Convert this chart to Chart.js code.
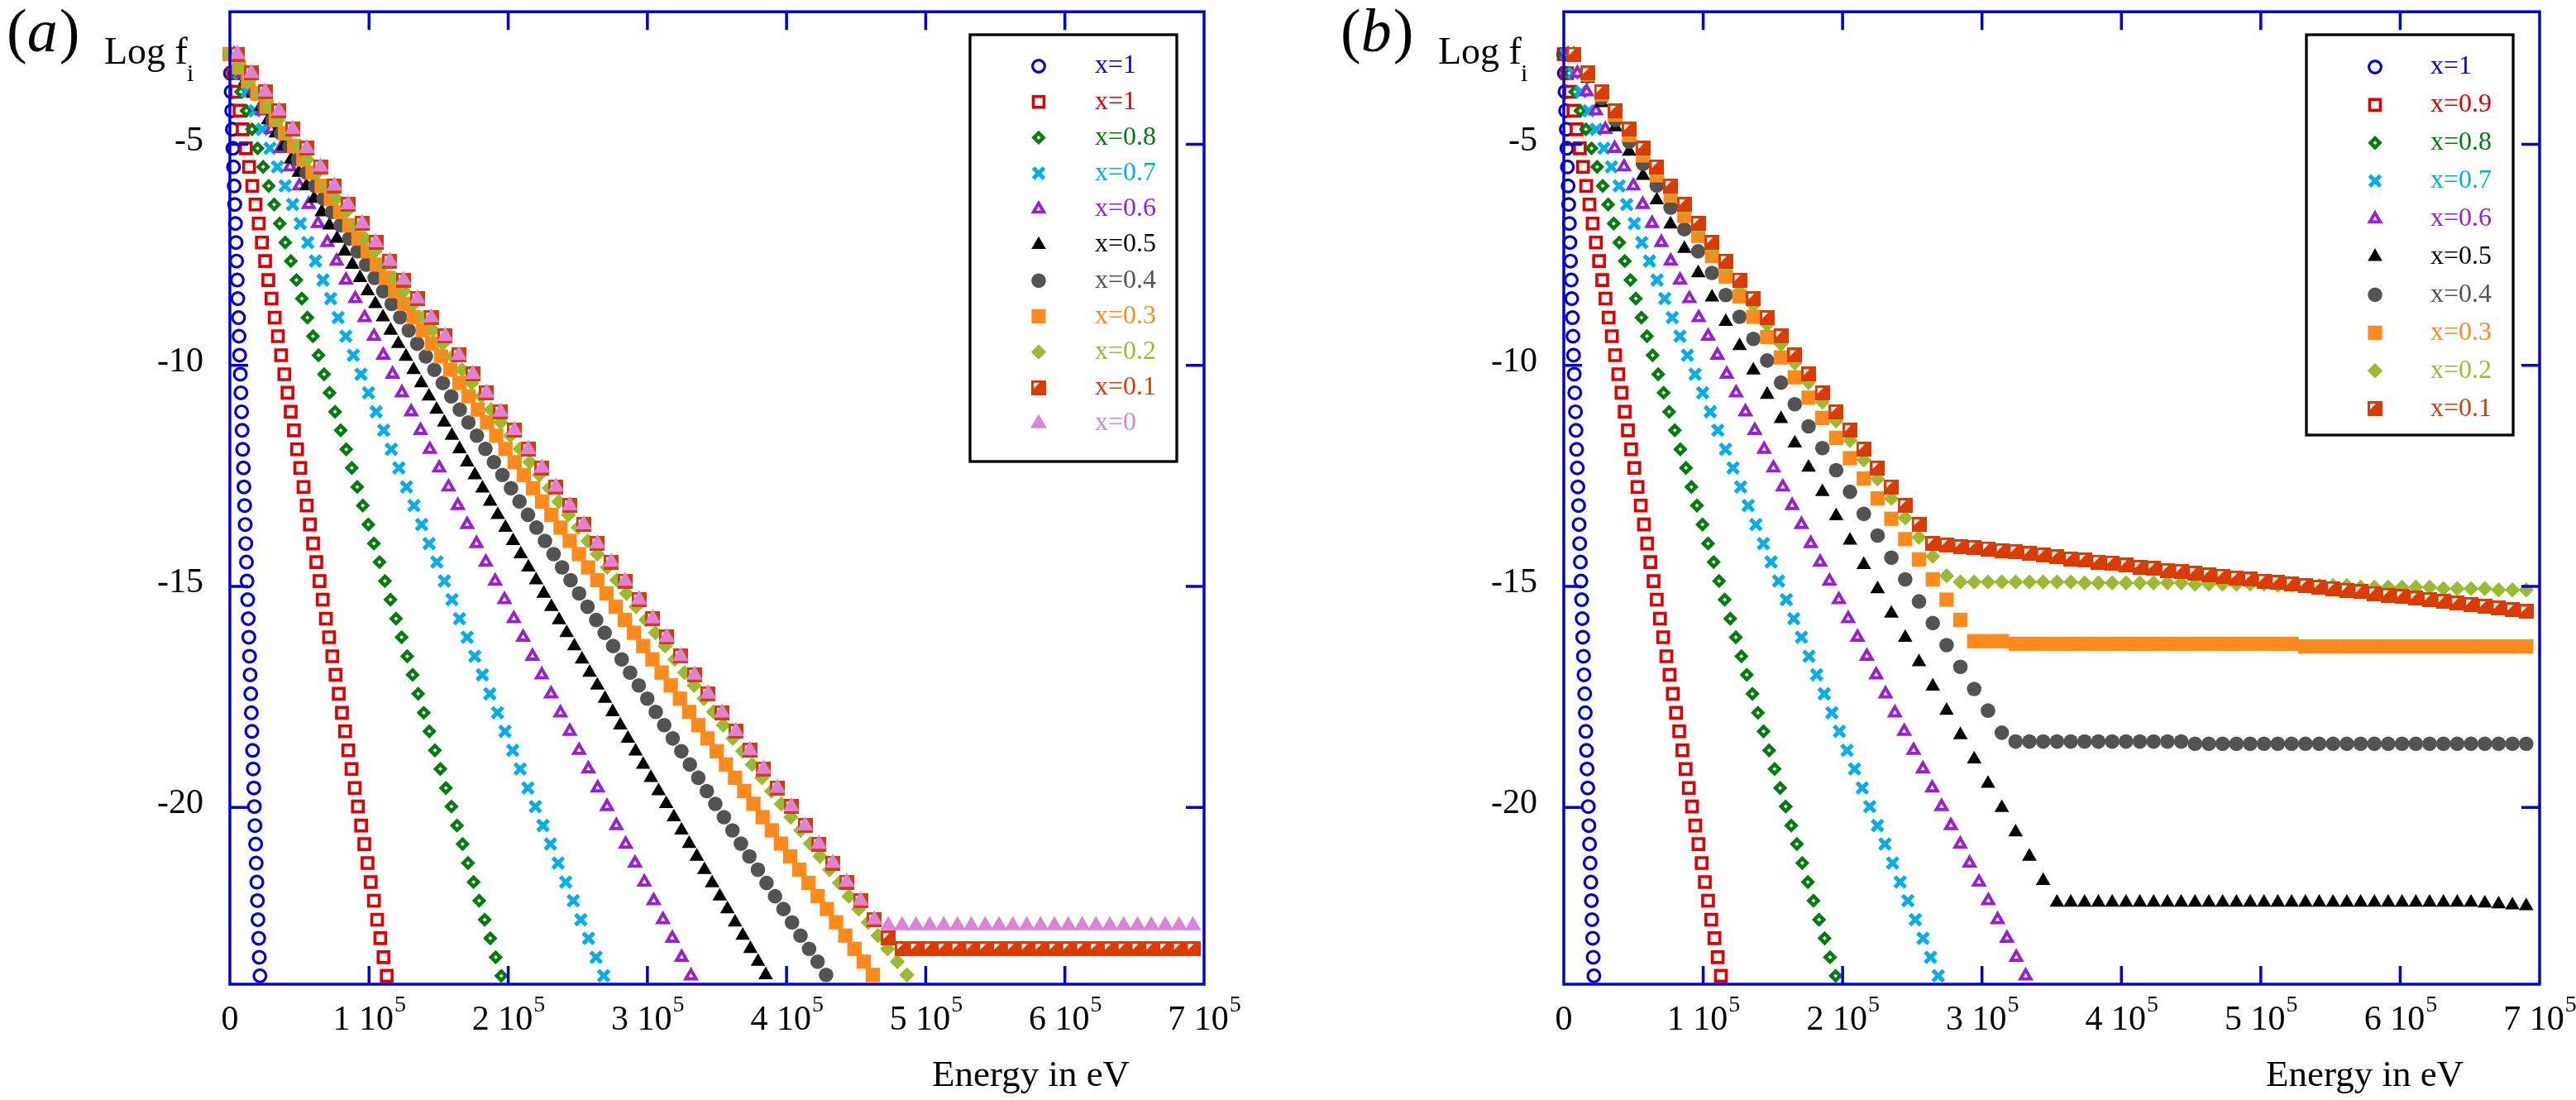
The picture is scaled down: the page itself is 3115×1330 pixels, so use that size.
<!DOCTYPE html>
<html>
<head>
<meta charset="utf-8">
<title>Log f_i versus energy</title>
<script src="https://cdn.jsdelivr.net/npm/chart.js@4.4.1/dist/chart.umd.min.js"></script>
<style>
  html, body { margin: 0; padding: 0; background: #fff; }
  body { width: 3115px; height: 1330px; position: relative; overflow: hidden; }
  .panel { position: absolute; top: 0; height: 1330px; }
  #panelA { left: 0; width: 1557px; }
  #panelB { left: 1557px; width: 1558px; }
</style>
</head>
<body>
<div class="panel" id="panelA"><canvas id="chartA" width="1557" height="1330"></canvas></div>
<div class="panel" id="panelB"><canvas id="chartB" width="1558" height="1330"></canvas></div>
<script>
// ---- Data (energies in keV, values are log10 f_i) ----
const energyTicks = [0, 100, 200, 300, 400, 500, 600, 700];
const levelTicks = [-5, -10, -15, -20];

const labelsA = ['x=1', 'x=1', 'x=0.8', 'x=0.7', 'x=0.6', 'x=0.5', 'x=0.4', 'x=0.3', 'x=0.2', 'x=0.1', 'x=0'];
const labelsB = ['x=1', 'x=0.9', 'x=0.8', 'x=0.7', 'x=0.6', 'x=0.5', 'x=0.4', 'x=0.3', 'x=0.2', 'x=0.1'];

// levels shared by the x=1 ... x=0.6 curves (and the x=0.1 / x=0 start)
const logLevels = [
  -2.96, -3.39, -3.81, -4.24, -4.66, -5.09, -5.51, -5.94, -6.36, -6.79,
  -7.22, -7.64, -8.07, -8.49, -8.92, -9.34, -9.77, -10.20, -10.62, -11.05,
  -11.47, -11.90, -12.32, -12.75, -13.17, -13.60, -14.03, -14.45, -14.88, -15.30,
  -15.73, -16.15, -16.58, -17.00, -17.43, -17.86, -18.28, -18.71, -19.13, -19.56,
  -19.98, -20.41, -20.83, -21.26, -21.69, -22.11, -22.54, -22.96, -23.39, -23.81
];

const energyX1 = [
  0, 0.4, 0.9, 1.3, 1.8, 2.2, 2.6, 3.1, 3.5, 4.0,
  4.4, 4.8, 5.3, 5.7, 6.2, 6.6, 7.0, 7.5, 7.9, 8.4,
  8.8, 9.2, 9.7, 10.1, 10.6, 11.0, 11.4, 11.9, 12.3, 12.8,
  13.2, 13.6, 14.1, 14.5, 15.0, 15.4, 15.8, 16.3, 16.7, 17.2,
  17.6, 18.0, 18.5, 18.9, 19.4, 19.8, 20.2, 20.7, 21.1, 21.6
];
const energyX09 = [
  0, 2.3, 4.6, 6.9, 9.2, 11.5, 13.8, 16.1, 18.4, 20.7,
  23.0, 25.3, 27.6, 29.9, 32.2, 34.5, 36.8, 39.1, 41.4, 43.7,
  46.0, 48.3, 50.6, 52.9, 55.2, 57.5, 59.8, 62.1, 64.4, 66.7,
  69.0, 71.3, 73.6, 75.9, 78.2, 80.5, 82.8, 85.1, 87.4, 89.7,
  92.0, 94.3, 96.6, 98.9, 101.2, 103.5, 105.8, 108.1, 110.4, 112.7
];
const energyX08 = [
  0, 4.0, 8.0, 11.9, 15.9, 19.9, 23.9, 27.9, 31.8, 35.8,
  39.8, 43.8, 47.8, 51.7, 55.7, 59.7, 63.7, 67.7, 71.6, 75.6,
  79.6, 83.6, 87.6, 91.5, 95.5, 99.5, 103.5, 107.5, 111.4, 115.4,
  119.4, 123.4, 127.4, 131.3, 135.3, 139.3, 143.3, 147.3, 151.2, 155.2,
  159.2, 163.2, 167.2, 171.1, 175.1, 179.1, 183.1, 187.1, 191.0, 195.0
];
const energyX07 = [
  1.5, 7.0, 12.4, 17.9, 23.3, 28.8, 34.2, 39.7, 45.1, 50.6,
  56.0, 61.5, 66.9, 72.4, 77.8, 83.3, 88.7, 94.2, 99.6, 105.1,
  110.5, 116.0, 121.4, 126.9, 132.3, 137.8, 143.2, 148.7, 154.1, 159.6,
  165.0, 170.5, 175.9, 181.4, 186.8, 192.3, 197.7, 203.2, 208.6, 214.1,
  219.5, 225.0, 230.4, 235.9, 241.3, 246.8, 252.2, 257.7, 263.1, 268.6
];
const energyX06 = [
  3.0, 9.7, 16.4, 23.1, 29.8, 36.5, 43.2, 49.9, 56.6, 63.3,
  70.0, 76.7, 83.4, 90.1, 96.8, 103.5, 110.2, 116.9, 123.6, 130.3,
  137.0, 143.7, 150.4, 157.1, 163.8, 170.5, 177.2, 183.9, 190.6, 197.3,
  204.0, 210.7, 217.4, 224.1, 230.8, 237.5, 244.2, 250.9, 257.6, 264.3,
  271.0, 277.7, 284.4, 291.1, 297.8, 304.5, 311.2, 317.9, 324.6, 331.3
];

// (a): denser sampled curves x=0.5 ... x=0.2 share these levels
const denseLevels = [
  -2.96, -3.26, -3.56, -3.85, -4.15, -4.45, -4.75, -5.04, -5.34, -5.64,
  -5.94, -6.23, -6.53, -6.83, -7.13, -7.42, -7.72, -8.02, -8.32, -8.61,
  -8.91, -9.21, -9.51, -9.80, -10.10, -10.40, -10.70, -11.00, -11.29, -11.59,
  -11.89, -12.19, -12.48, -12.78, -13.08, -13.38, -13.67, -13.97, -14.27, -14.57,
  -14.86, -15.16, -15.46, -15.76, -16.05, -16.35, -16.65, -16.95, -17.24, -17.54,
  -17.84, -18.14, -18.44, -18.73, -19.03, -19.33, -19.63, -19.92, -20.22, -20.52,
  -20.82, -21.11, -21.41, -21.71, -22.01, -22.30, -22.60, -22.90, -23.20, -23.49,
  -23.79
];
const energyA05 = [
  0, 5.5, 11, 16.5, 22, 27.5, 33, 38.5, 44, 49.5,
  55, 60.5, 66, 71.5, 77, 82.5, 88, 93.5, 99, 104.5,
  110, 115.5, 121, 126.5, 132, 137.5, 143, 148.5, 154, 159.5,
  165, 170.5, 176, 181.5, 187, 192.5, 198, 203.5, 209, 214.5,
  220, 225.5, 231, 236.5, 242, 247.5, 253, 258.5, 264, 269.5,
  275, 280.5, 286, 291.5, 297, 302.5, 308, 313.5, 319, 324.5,
  330, 335.5, 341, 346.5, 352, 357.5, 363, 368.5, 374, 379.5,
  385
];
const energyA04 = [
  0, 6.1, 12.2, 18.4, 24.5, 30.6, 36.7, 42.8, 49.0, 55.1,
  61.2, 67.3, 73.4, 79.6, 85.7, 91.8, 97.9, 104.0, 110.2, 116.3,
  122.4, 128.5, 134.6, 140.8, 146.9, 153.0, 159.1, 165.2, 171.4, 177.5,
  183.6, 189.7, 195.8, 202.0, 208.1, 214.2, 220.3, 226.4, 232.6, 238.7,
  244.8, 250.9, 257.0, 263.2, 269.3, 275.4, 281.5, 287.6, 293.8, 299.9,
  306.0, 312.1, 318.2, 324.4, 330.5, 336.6, 342.7, 348.8, 355.0, 361.1,
  367.2, 373.3, 379.4, 385.6, 391.7, 397.8, 403.9, 410.0, 416.2, 422.3,
  428.4
];
const energyA03 = [
  0, 6.6, 13.2, 19.8, 26.4, 33, 39.6, 46.2, 52.8, 59.4,
  66, 72.6, 79.2, 85.8, 92.4, 99, 105.6, 112.2, 118.8, 125.4,
  132, 138.6, 145.2, 151.8, 158.4, 165, 171.6, 178.2, 184.8, 191.4,
  198, 204.6, 211.2, 217.8, 224.4, 231, 237.6, 244.2, 250.8, 257.4,
  264, 270.6, 277.2, 283.8, 290.4, 297, 303.6, 310.2, 316.8, 323.4,
  330, 336.6, 343.2, 349.8, 356.4, 363, 369.6, 376.2, 382.8, 389.4,
  396, 402.6, 409.2, 415.8, 422.4, 429, 435.6, 442.2, 448.8, 455.4,
  462
];
const energyA02 = [
  0, 7.0, 13.9, 20.9, 27.8, 34.8, 41.7, 48.7, 55.6, 62.6,
  69.5, 76.5, 83.4, 90.4, 97.3, 104.3, 111.2, 118.2, 125.1, 132.1,
  139.0, 146.0, 152.9, 159.9, 166.8, 173.8, 180.7, 187.7, 194.6, 201.6,
  208.5, 215.5, 222.4, 229.4, 236.3, 243.3, 250.2, 257.2, 264.1, 271.1,
  278.0, 285.0, 291.9, 298.9, 305.8, 312.8, 319.7, 326.7, 333.6, 340.6,
  347.5, 354.5, 361.4, 368.4, 375.3, 382.3, 389.2, 396.2, 403.1, 410.1,
  417.0, 424.0, 430.9, 437.9, 444.8, 451.8, 458.7, 465.7, 472.6, 479.6,
  486.5
];

// (a): x=0.1 and x=0 on a 10 keV grid, then flat tails
const gridA = [
  5.4, 15.4, 25.3, 35.3, 45.2, 55.2, 65.1, 75.1, 85.0, 95.0,
  104.9, 114.9, 124.8, 134.8, 144.7, 154.7, 164.6, 174.6, 184.5, 194.5,
  204.4, 214.4, 224.3, 234.3, 244.2, 254.2, 264.1, 274.1, 284.0, 294.0,
  303.9, 313.9, 323.8, 333.8, 343.7, 353.7, 363.6, 373.6, 383.5, 393.5,
  403.4, 413.4, 423.3, 433.3, 443.2, 453.2, 463.1, 473.1, 483.0, 493.0,
  502.9, 512.9, 522.8, 532.8, 542.7, 552.7, 562.6, 572.6, 582.5, 592.5,
  602.4, 612.4, 622.3, 632.3, 642.2, 652.2, 662.1, 672.1, 682.0, 692.0
];
const tailA01 = [
  -23.2, -23.2, -23.2, -23.2, -23.2, -23.2, -23.2, -23.2, -23.2, -23.2, -23.2,
  -23.2, -23.2, -23.2, -23.2, -23.2, -23.2, -23.2, -23.2, -23.2, -23.2, -23.2
];
const tailA00 = [
  -22.67, -22.67, -22.67, -22.67, -22.67, -22.67, -22.67, -22.67, -22.67, -22.67, -22.67, -22.67,
  -22.67, -22.67, -22.67, -22.67, -22.67, -22.67, -22.67, -22.67, -22.67, -22.67, -22.67
];
const levelsA01 = logLevels.slice(0, 48).concat(tailA01);
const levelsA00 = logLevels.slice(0, 47).concat(tailA00);

// (b): x=0.5 ... x=0.1 on a common 10 keV grid
const gridB = [
  7.3, 17.2, 27.1, 37.0, 46.9, 56.8, 66.7, 76.6, 86.5, 96.4,
  106.3, 116.2, 126.1, 136.0, 145.9, 155.8, 165.7, 175.6, 185.5, 195.4,
  205.3, 215.2, 225.1, 235.0, 244.9, 254.8, 264.7, 274.6, 284.5, 294.4,
  304.3, 314.2, 324.1, 334.0, 343.9, 353.8, 363.7, 373.6, 383.5, 393.4,
  403.3, 413.2, 423.1, 433.0, 442.9, 452.8, 462.7, 472.6, 482.5, 492.4,
  502.3, 512.2, 522.1, 532.0, 541.9, 551.8, 561.7, 571.6, 581.5, 591.4,
  601.3, 611.2, 621.1, 631.0, 640.9, 650.8, 660.7, 670.6, 680.5, 690.4
];
const levelsB05 = [
  -2.96, -3.51, -4.06, -4.61, -5.16, -5.71, -6.26, -6.81, -7.36, -7.91,
  -8.46, -9.01, -9.56, -10.11, -10.66, -11.21, -11.76, -12.31, -12.86, -13.41,
  -13.96, -14.51, -15.06, -15.61, -16.16, -16.71, -17.26, -17.81, -18.36, -18.91,
  -19.46, -20.01, -20.56, -21.11, -21.66, -22.15, -22.15, -22.15, -22.15, -22.15,
  -22.15, -22.15, -22.15, -22.15, -22.15, -22.15, -22.15, -22.15, -22.15, -22.15,
  -22.15, -22.15, -22.15, -22.15, -22.15, -22.15, -22.15, -22.15, -22.15, -22.15,
  -22.15, -22.15, -22.15, -22.15, -22.15, -22.15, -22.17, -22.19, -22.21, -22.23
];
const levelsB04 = [
  -2.96, -3.46, -3.95, -4.45, -4.94, -5.44, -5.93, -6.43, -6.92, -7.42,
  -7.91, -8.41, -8.90, -9.40, -9.89, -10.39, -10.88, -11.38, -11.87, -12.37,
  -12.86, -13.36, -13.85, -14.35, -14.84, -15.34, -15.83, -16.33, -16.82, -17.32,
  -17.81, -18.31, -18.51, -18.51, -18.51, -18.51, -18.51, -18.51, -18.51, -18.51,
  -18.51, -18.51, -18.51, -18.51, -18.51, -18.56, -18.56, -18.56, -18.56, -18.56,
  -18.56, -18.56, -18.56, -18.56, -18.56, -18.56, -18.56, -18.56, -18.56, -18.56,
  -18.56, -18.56, -18.56, -18.56, -18.56, -18.56, -18.56, -18.56, -18.56, -18.56
];
const levelsB03 = [
  -2.96, -3.42, -3.87, -4.33, -4.79, -5.25, -5.70, -6.16, -6.62, -7.07,
  -7.53, -7.99, -8.44, -8.90, -9.36, -9.82, -10.27, -10.73, -11.19, -11.64,
  -12.10, -12.56, -13.01, -13.47, -13.93, -14.39, -14.84, -15.30, -15.76, -16.24,
  -16.24, -16.24, -16.30, -16.30, -16.30, -16.30, -16.30, -16.30, -16.30, -16.30,
  -16.30, -16.30, -16.30, -16.30, -16.30, -16.30, -16.30, -16.30, -16.30, -16.30,
  -16.30, -16.30, -16.30, -16.36, -16.36, -16.36, -16.36, -16.36, -16.36, -16.36,
  -16.36, -16.36, -16.36, -16.36, -16.36, -16.36, -16.36, -16.36, -16.36, -16.36
];
const levelsB02 = [
  -2.96, -3.40, -3.83, -4.27, -4.71, -5.15, -5.58, -6.02, -6.46, -6.89,
  -7.33, -7.77, -8.20, -8.64, -9.08, -9.52, -9.95, -10.39, -10.83, -11.26,
  -11.70, -12.14, -12.57, -13.01, -13.45, -13.89, -14.32, -14.76, -14.90, -14.90,
  -14.90, -14.90, -14.90, -14.90, -14.90, -14.90, -14.90, -14.92, -14.92, -14.92,
  -14.92, -14.92, -14.92, -14.92, -14.92, -14.95, -14.95, -14.95, -14.95, -14.95,
  -14.95, -14.98, -14.98, -14.98, -14.98, -14.98, -14.98, -15.02, -15.02, -15.02,
  -15.02, -15.02, -15.02, -15.05, -15.05, -15.05, -15.05, -15.08, -15.08, -15.08
];
const tailB01 = [
  -14.06, -14.10, -14.12, -14.15, -14.19, -14.21, -14.26, -14.29, -14.33, -14.38,
  -14.40, -14.45, -14.47, -14.52, -14.57, -14.59, -14.64, -14.66, -14.70, -14.74,
  -14.77, -14.81, -14.84, -14.88, -14.91, -14.95, -14.98, -15.02, -15.05, -15.09,
  -15.12, -15.16, -15.20, -15.23, -15.27, -15.30, -15.34, -15.38, -15.41, -15.45,
  -15.49, -15.53, -15.57
];
const levelsB01 = logLevels.slice(0, 27).concat(tailB01);

// ---- Styling ----
const serif = "'Liberation Serif', 'Times New Roman', serif";

const colors = {
  axis: '#0000dc',
  blue: '#0000d4',
  red: '#e00000',
  green: '#007d0c',
  cyan: '#00adef',
  purple: '#991fd4',
  black: '#000000',
  gray: '#535353',
  orange: '#ff8a1c',
  olive: '#9aba30',
  vermilion: '#d93b00',
  pink: '#dc82d8'
};

/**
 * Square marker with a small white corner notch (x=0.1 series)
 * @param {string} color - Fill colour
 * @param {number} side - Side length in px
 * @returns {HTMLCanvasElement} Marker image
 */
function makeNotchedSquare(color, side) {
  const c = document.createElement('canvas');
  c.width = side;
  c.height = side;
  const g = c.getContext('2d');
  g.fillStyle = color;
  g.fillRect(0, 0, side, side);
  g.fillStyle = '#ffffff';
  g.beginPath();
  g.moveTo(3, 3);
  g.lineTo(10, 3);
  g.lineTo(3, 10);
  g.closePath();
  g.fill();
  return c;
}

const markers = {
  openCircle: { pointStyle: 'circle', radius: 7.4, borderWidth: 3.2, open: true },
  openSquare: { pointStyle: 'rect', radius: 9.2, borderWidth: 3.6, open: true },
  openDiamond: { pointStyle: 'rectRot', radius: 5.6, borderWidth: 4.4, open: true },
  cross: { pointStyle: 'crossRot', radius: 9.2, borderWidth: 5, open: true },
  openTriangle: { pointStyle: 'triangle', radius: 7.2, borderWidth: 3.9, open: true },
  triangle: { pointStyle: 'triangle', radius: 10.2, borderWidth: 0 },
  circle: { pointStyle: 'circle', radius: 8.8, borderWidth: 0 },
  square: { pointStyle: 'rect', radius: 12.2, borderWidth: 0 },
  diamond: { pointStyle: 'rectRot', radius: 9.2, borderWidth: 0 },
  notchedSquare: { pointStyle: makeNotchedSquare(colors.vermilion, 18), radius: 9, borderWidth: 0 },
  bigTriangle: { pointStyle: 'triangle', radius: 11.5, borderWidth: 0 }
};

const seriesA = [
  { label: labelsA[0], color: colors.blue, marker: 'openCircle', energies: energyX1, levels: logLevels },
  { label: labelsA[1], color: colors.red, marker: 'openSquare', energies: energyX09, levels: logLevels },
  { label: labelsA[2], color: colors.green, marker: 'openDiamond', energies: energyX08, levels: logLevels },
  { label: labelsA[3], color: colors.cyan, marker: 'cross', energies: energyX07, levels: logLevels },
  { label: labelsA[4], color: colors.purple, marker: 'openTriangle', energies: energyX06, levels: logLevels },
  { label: labelsA[5], color: colors.black, marker: 'triangle', energies: energyA05, levels: denseLevels },
  { label: labelsA[6], color: colors.gray, marker: 'circle', energies: energyA04, levels: denseLevels },
  { label: labelsA[7], color: colors.orange, marker: 'square', energies: energyA03, levels: denseLevels },
  { label: labelsA[8], color: colors.olive, marker: 'diamond', energies: energyA02, levels: denseLevels },
  { label: labelsA[9], color: colors.vermilion, marker: 'notchedSquare', energies: gridA, levels: levelsA01 },
  { label: labelsA[10], color: colors.pink, marker: 'bigTriangle', energies: gridA, levels: levelsA00 }
];

const seriesB = [
  { label: labelsB[0], color: colors.blue, marker: 'openCircle', energies: energyX1, levels: logLevels },
  { label: labelsB[1], color: colors.red, marker: 'openSquare', energies: energyX09, levels: logLevels },
  { label: labelsB[2], color: colors.green, marker: 'openDiamond', energies: energyX08, levels: logLevels },
  { label: labelsB[3], color: colors.cyan, marker: 'cross', energies: energyX07, levels: logLevels },
  { label: labelsB[4], color: colors.purple, marker: 'openTriangle', energies: energyX06, levels: logLevels },
  { label: labelsB[5], color: colors.black, marker: 'triangle', energies: gridB, levels: levelsB05 },
  { label: labelsB[6], color: colors.gray, marker: 'circle', energies: gridB, levels: levelsB04 },
  { label: labelsB[7], color: colors.orange, marker: 'square', energies: gridB, levels: levelsB03 },
  { label: labelsB[8], color: colors.olive, marker: 'diamond', energies: gridB, levels: levelsB02 },
  { label: labelsB[9], color: colors.vermilion, marker: 'notchedSquare', energies: gridB, levels: levelsB01 }
];

/**
 * Turn series descriptions into scatter datasets
 * @param {Array} series - Series list
 * @returns {Array} Chart.js datasets
 */
function buildDatasets(series) {
  return series.map((s, i) => {
    const m = markers[s.marker];
    return {
      label: s.label,
      data: s.energies.map((e, k) => ({ x: e, y: s.levels[k] })),
      showLine: false,
      pointStyle: m.pointStyle,
      pointRadius: m.radius,
      pointHoverRadius: m.radius,
      pointBorderWidth: m.borderWidth,
      pointHoverBorderWidth: m.borderWidth,
      pointBorderColor: s.color,
      pointBackgroundColor: m.open ? '#ffffff' : s.color,
      order: series.length - i, // later series on top
      clip: false
    };
  });
}

const tickLen = 22;

/**
 * Label "n 10^5" under an energy tick
 */
function drawEnergyLabel(ctx, x, y, value) {
  ctx.textBaseline = 'alphabetic';
  ctx.font = `42px ${serif}`;
  if (value === 0) {
    ctx.textAlign = 'center';
    ctx.fillText('0', x, y);
    return;
  }
  const main = `${value / 100} 10`;
  const mw = ctx.measureText(main).width;
  ctx.font = `28px ${serif}`;
  const sw = ctx.measureText('5').width;
  const start = x - (mw + sw) / 2;
  ctx.textAlign = 'left';
  ctx.font = `42px ${serif}`;
  ctx.fillText(main, start, y);
  ctx.font = `28px ${serif}`;
  ctx.fillText('5', start + mw + 1, y - 22);
}

// Frame, inside ticks, tick labels, titles and the legend box
const figurePlugin = {
  id: 'figureFrame',
  afterDatasetsDraw(chart, args, opts) {
    const { ctx, chartArea: a } = chart;
    const xs = chart.scales.x;
    const ys = chart.scales.y;
    ctx.save();

    // frame + ticks
    ctx.strokeStyle = colors.axis;
    ctx.lineWidth = 3.5;
    ctx.strokeRect(a.left, a.top, a.right - a.left, a.bottom - a.top);
    ctx.beginPath();
    energyTicks.forEach(v => {
      if (v <= xs.min || v >= xs.max) return;
      const x = xs.getPixelForValue(v);
      ctx.moveTo(x, a.bottom);
      ctx.lineTo(x, a.bottom - tickLen);
      ctx.moveTo(x, a.top);
      ctx.lineTo(x, a.top + tickLen);
    });
    levelTicks.forEach(v => {
      const y = ys.getPixelForValue(v);
      ctx.moveTo(a.left, y);
      ctx.lineTo(a.left + tickLen, y);
      ctx.moveTo(a.right, y);
      ctx.lineTo(a.right - tickLen, y);
    });
    ctx.stroke();

    // tick labels
    ctx.fillStyle = '#000';
    ctx.font = `42px ${serif}`;
    ctx.textAlign = 'right';
    ctx.textBaseline = 'middle';
    levelTicks.forEach(v => {
      ctx.fillText(String(v), a.left - 32, ys.getPixelForValue(v) - 4);
    });
    energyTicks.forEach(v => drawEnergyLabel(ctx, xs.getPixelForValue(v), a.bottom + 55, v));

    // axis titles
    ctx.textAlign = 'left';
    ctx.textBaseline = 'alphabetic';
    ctx.font = `45px ${serif}`;
    ctx.fillText('Energy in eV', a.left + 849, a.bottom + 123);
    const yt = 'Log f';
    ctx.font = `46px ${serif}`;
    const tx = a.left - 152;
    ctx.fillText(yt, tx, 77);
    const tw = ctx.measureText(yt).width;
    ctx.font = `30px ${serif}`;
    ctx.fillText('i', tx + tw - 1, 98);

    // panel letter
    let px = a.left - 270;
    ctx.font = `74px ${serif}`;
    ctx.fillText('(', px, 62);
    px += ctx.measureText('(').width;
    ctx.font = `italic 74px ${serif}`;
    ctx.fillText(opts.letter, px, 62);
    px += ctx.measureText(opts.letter).width + 2;
    ctx.font = `74px ${serif}`;
    ctx.fillText(')', px, 62);

    // legend
    const lg = opts.legend;
    ctx.fillStyle = '#fff';
    ctx.fillRect(lg.left, lg.top, lg.right - lg.left, lg.bottom - lg.top);
    ctx.strokeStyle = '#000';
    ctx.lineWidth = 3.3;
    ctx.strokeRect(lg.left, lg.top, lg.right - lg.left, lg.bottom - lg.top);
    ctx.textBaseline = 'middle';
    ctx.textAlign = 'left';
    ctx.font = `32px ${serif}`;
    opts.series.forEach((s, i) => {
      const y = lg.rowTop + i * lg.rowStep;
      const m = markers[s.marker];
      ctx.fillStyle = m.open ? '#ffffff' : s.color;
      ctx.strokeStyle = s.color;
      ctx.lineWidth = m.borderWidth;
      Chart.helpers.drawPoint(ctx, { pointStyle: m.pointStyle, radius: m.radius, borderWidth: m.borderWidth, rotation: 0 }, lg.markerX, y);
      ctx.fillStyle = s.color;
      ctx.fillText(s.label, lg.textX, y);
    });
    ctx.restore();
  }
};

/**
 * Create one panel
 * @param {string} id - Canvas id
 * @param {Array} series - Series list
 * @param {Object} frame - Padding, letter and legend placement
 * @returns {Chart} Chart instance
 */
function createPanel(id, series, frame) {
  const canvas = document.getElementById(id);
  return new Chart(canvas, {
    type: 'scatter',
    data: { datasets: buildDatasets(series) },
    options: {
      responsive: false,
      animation: false,
      events: [],
      layout: { padding: frame.padding },
      scales: {
        x: { type: 'linear', min: 0, max: 700, display: false },
        y: { type: 'linear', min: -24, max: -2, display: false }
      },
      plugins: {
        legend: { display: false },
        tooltip: { enabled: false },
        figureFrame: { letter: frame.letter, legend: frame.legend, series: series }
      }
    },
    plugins: [figurePlugin]
  });
}

createPanel('chartA', seriesA, {
  letter: 'a',
  padding: { left: 278, top: 12, right: 101, bottom: 140 },
  legend: { left: 1173, top: 42, right: 1423, bottom: 558, markerX: 1256, textX: 1324, rowTop: 80, rowStep: 43.2 }
});

createPanel('chartB', seriesB, {
  letter: 'b',
  padding: { left: 334, top: 12, right: 44, bottom: 140 },
  legend: { left: 1232, top: 42, right: 1482, bottom: 526, markerX: 1315, textX: 1382, rowTop: 81, rowStep: 45.9 }
});
</script>
</body>
</html>
